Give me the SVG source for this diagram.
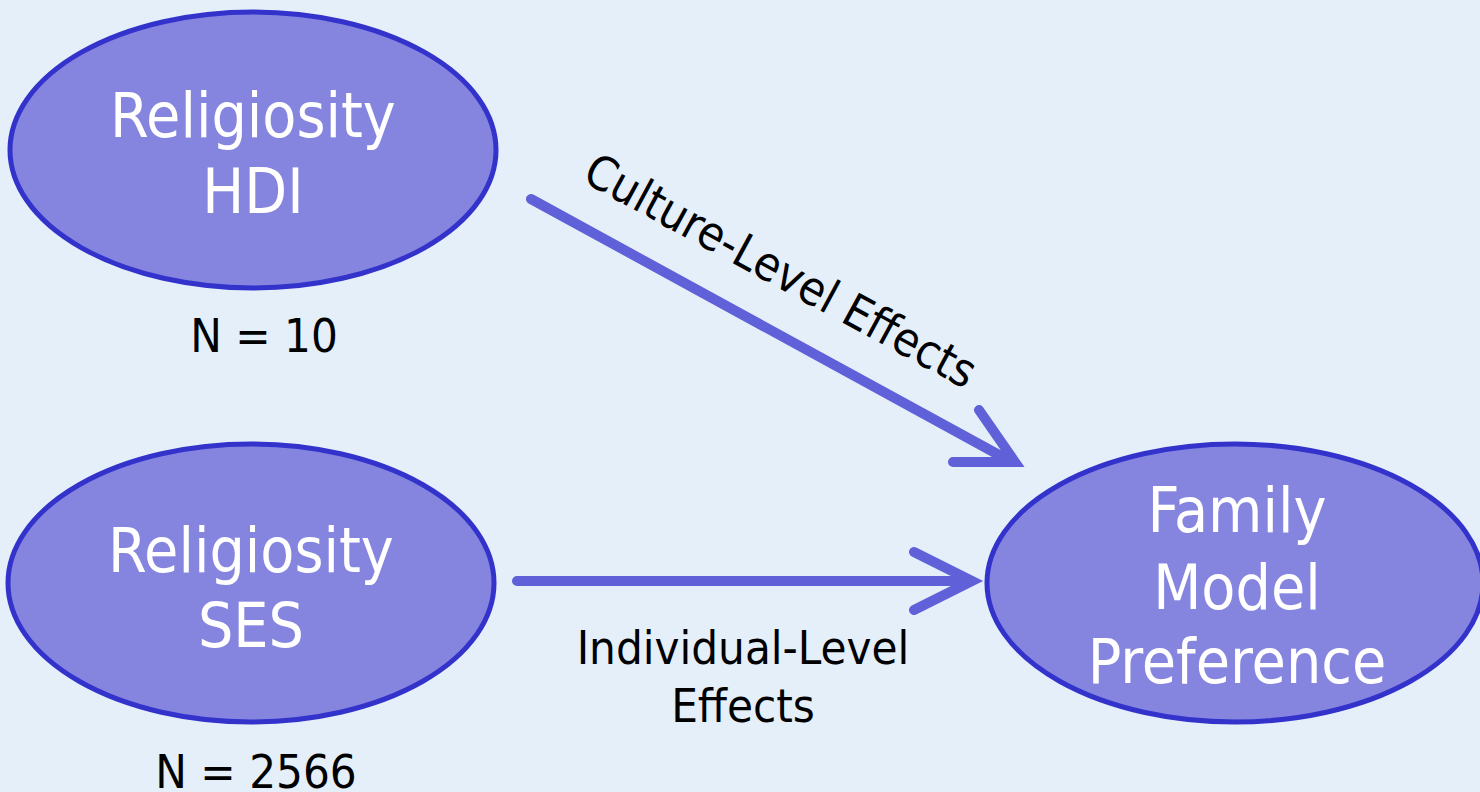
<svg xmlns="http://www.w3.org/2000/svg" width="1480" height="792" viewBox="0 0 1480 792">
<style>
.node{fill:#8585e0;stroke:#3333cc;stroke-width:5}
.nt{font-family:"DejaVu Sans Condensed","DejaVu Sans",sans-serif;font-stretch:condensed;font-size:62px;fill:#ffffff;text-anchor:middle}
.lb{font-family:"DejaVu Sans Condensed","DejaVu Sans",sans-serif;font-stretch:condensed;font-size:47px;fill:#000000;text-anchor:middle}
.arr{fill:none;stroke:#6060d8;stroke-width:10;stroke-linecap:round;stroke-linejoin:miter;stroke-miterlimit:10}
</style>
<rect width="1480" height="792" fill="#e4effa"/>
<g id="connectors">
<path class="arr" d="M531,199 L1010,461 M979,410 L1015,462 L953,462"/>
<path class="arr" d="M517,581 L972,581 M914,552 L972,581 L914,610"/>
<text class="lb" transform="translate(773,285) rotate(28.5)" x="0" y="0">Culture-Level Effects</text>
<text class="lb" x="743" y="664">Individual-Level</text>
<text class="lb" x="743" y="722">Effects</text>
</g>
<g id="node-hdi">
<ellipse class="node" cx="253" cy="150" rx="243" ry="138"/>
<text class="nt" x="253" y="137">Religiosity</text>
<text class="nt" x="253" y="213">HDI</text>
<text class="lb" x="264" y="352">N = 10</text>
</g>
<g id="node-ses">
<ellipse class="node" cx="251" cy="583" rx="243" ry="139"/>
<text class="nt" x="251" y="572">Religiosity</text>
<text class="nt" x="251" y="647">SES</text>
<text class="lb" x="256" y="788">N = 2566</text>
</g>
<g id="node-fmp">
<ellipse class="node" cx="1235" cy="583" rx="248" ry="139"/>
<text class="nt" x="1237" y="532">Family</text>
<text class="nt" x="1237" y="609">Model</text>
<text class="nt" x="1237" y="683">Preference</text>
</g>
</svg>
